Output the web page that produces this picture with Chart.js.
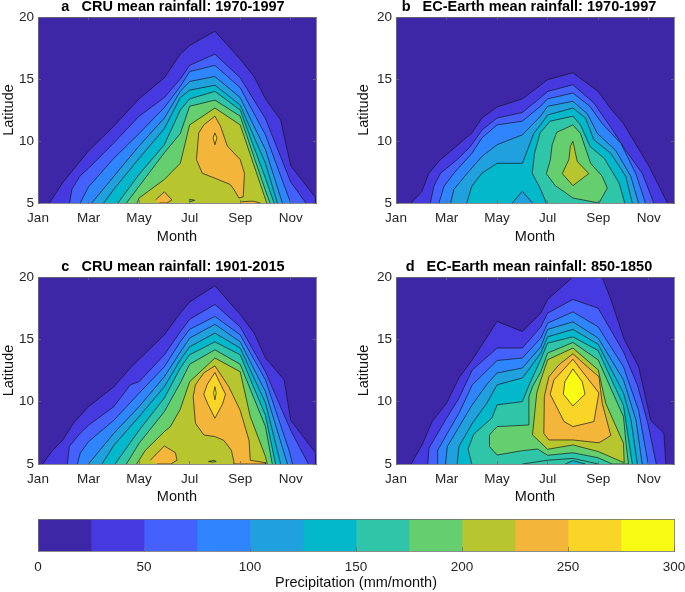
<!DOCTYPE html>
<html>
<head>
<meta charset="utf-8">
<script src="https://cdn.jsdelivr.net/npm/chart.js@4"></script>
<style>
  body { margin: 0; background: #fff; }
  canvas { position: absolute; }
</style>
</head>
<body>
<canvas id="panelA"></canvas>
<canvas id="panelB"></canvas>
<canvas id="panelC"></canvas>
<canvas id="panelD"></canvas>
<canvas id="colorBar"></canvas>
<script>
// Axis labels and colour classes
const monthNames = ['', 'Jan', 'Feb', 'Mar', 'Apr', 'May', 'Jun', 'Jul', 'Aug', 'Sep', 'Oct', 'Nov', 'Dec'];
const monthTicks = [1, 3, 5, 7, 9, 11];
const latitudeTicks = [5, 10, 15, 20];
const barTicks = [0, 50, 100, 150, 200, 250, 300];
const barSteps = [25, 25, 25, 25, 25, 25, 25, 25, 25, 25, 25, 25];
const bandColors = ['#3d27a6', '#4639df', '#4460fd', '#2e85fd', '#20a1de', '#04b8cc', '#2fc5a8', '#65cf70', '#b7c62f', '#f4b63a', '#f8d527', '#f9fb15'];
const wholeField = [[1, 5], [1, 20], [12, 20], [12, 5]];

// Contours, as [month, latitude]
// a: CRU 1970-1997
const a25 = [[1.45, 5], [2, 6.7], [3, 9.2], [4, 11.2], [5, 13.4], [6, 15.1], [6.63, 17], [7, 17.7], [8, 18.85], [9, 16.6], [9.55, 15.2], [10, 13.4], [10.6, 11.7], [11, 8], [12, 5.4], [12, 5]];
const a50 = [[2.25, 5], [2.34, 6.1], [2.67, 7.2], [3, 7.8], [4, 9.85], [5, 12], [6, 13.5], [6.63, 15], [7, 16.1], [8, 17], [9, 15.1], [10, 11.8], [11, 6.7], [11.6, 5]];
const a75 = [[2.67, 5], [3, 6.3], [4, 8.6], [5, 10.6], [6, 12.7], [6.63, 14.4], [7, 15.6], [8, 16.1], [9, 14.3], [10, 10.5], [11, 5]];
const a100 = [[3.13, 5], [4, 7.15], [5, 9.6], [6, 11.85], [6.63, 14], [7, 14.8], [8, 15.2], [9, 13.5], [10, 9.3], [10.67, 5]];
const a125 = [[3.6, 5], [4, 6.1], [5, 8.6], [6, 11], [6.63, 13.5], [7, 14.1], [8, 14.5], [9, 12.9], [10, 8.2], [10.47, 5]];
const a150 = [[4.16, 5], [5, 7.3], [6, 9.7], [6.63, 12.5], [7, 13.4], [8, 14], [9, 12.5], [10, 7], [10.34, 5]];
const a175 = [[4.5, 5], [5, 6.35], [6, 9.05], [6.63, 10.6], [7, 12.8], [8, 13.3], [9, 12], [10, 6], [10.18, 5]];
const a200 = [[4.92, 5], [5, 5.4], [6, 6.9], [6.63, 8.2], [7, 11.3], [8, 12.66], [9, 11.3], [10, 5.3], [10.05, 5]];
const a225 = [[8, 12], [8.22, 11.2], [8.49, 9.6], [9, 8.5], [9.17, 7.4], [9.12, 5.5], [8.95, 5.4], [8.75, 6.1], [8.6, 6.5], [8, 7], [7.5, 7.4], [7.27, 8.5], [7.36, 10.65], [7.56, 11.3]];
const a225Jun = [[5.65, 5.25], [6, 5.9], [6.3, 5.25], [6.1, 5], [5.8, 5]];
const a225Sep = [[9, 5], [9.05, 5.1], [9.5, 5.15], [9.8, 5]];
const a175Jul = [[7, 5.1], [7, 5.3], [7.2, 5.22]];
const a250 = [[8, 10.65], [8.08, 10.25], [8, 9.7], [7.93, 10.25]];

// b: EC-Earth 1970-1997
const b25 = [[1.6, 5], [2.03, 5.94], [2.3, 7.4], [2.76, 8.5], [3, 8.9], [4, 10.65], [4.4, 11.85], [5, 12.74], [6, 13.4], [6.72, 14.5], [7, 14.95], [8, 15.5], [9, 14], [9.5, 12.6], [10, 11.4], [11, 8], [11.74, 5]];
const b50 = [[2.36, 5], [2.5, 6.35], [2.76, 7.4], [3.42, 8.5], [3.95, 9.57], [4.41, 10.9], [5, 11.85], [6, 12.3], [6.72, 13.5], [7, 14], [8, 14.54], [8.83, 13.07], [9.5, 11.1], [10.09, 9.25], [10.75, 7.37], [11.2, 5]];
const b75 = [[2.7, 5], [2.9, 6.35], [3.29, 7.4], [4, 9], [4.4, 10.25], [5, 11.3], [6, 11.6], [6.72, 12.8], [7, 13.4], [8, 13.87], [8.67, 12.8], [9.16, 11.4], [9.9, 9.8], [10.49, 7.37], [10.87, 5]];
const b100 = [[3.16, 5], [3.29, 6.1], [3.82, 7.4], [4.4, 8.76], [5, 9.7], [6, 10.5], [6.72, 12], [7, 12.8], [8, 13.2], [8.57, 12.2], [8.97, 10.6], [9.69, 9.25], [10.29, 7.15], [10.6, 5]];
const b125 = [[3.8, 5], [4, 6.35], [4.4, 7.4], [5, 8.2], [6, 8.2], [6.2, 9.25], [6.45, 10.6], [6.72, 11.3], [7, 12.1], [8, 12.66], [8.5, 11.85], [8.83, 10.1], [9.5, 9], [10.09, 7.15], [10.35, 5]];
const b100May = [[5.6, 5], [6, 5.94], [6.4, 5]];
const b150 = [[6.95, 5], [6.7, 6.2], [6.39, 7.4], [6.48, 9], [6.7, 10.65], [7.1, 11.6], [8, 12], [8.3, 11.3], [8.68, 9.55], [9.24, 8.6], [9.83, 6.6], [10.05, 5]];
const b175 = [[8, 11.3], [7.36, 10.7], [7.18, 9.7], [7.11, 8.5], [6.95, 7.37], [7.3, 6.4], [7.66, 5.9], [8, 5.4], [9.03, 5], [9.36, 6.2], [9.16, 7.15], [8.7, 8.2], [8.3, 10.6]];
const b200 = [[8, 9.97], [8.17, 8.36], [8.63, 7.37], [8, 6.4], [7.58, 7.37], [7.84, 8.5], [7.9, 9.57]];

// c: CRU 1901-2015
const c25 = [[1.18, 5], [1.54, 5.99], [1.98, 6.93], [2.4, 8.27], [3, 9.6], [4, 11.2], [4.65, 12.7], [6, 15.37], [6.63, 17.1], [7, 18], [8, 19.3], [9, 17], [9.55, 15.5], [10, 13.5], [10.74, 11.75], [11, 8.5], [12, 5.85], [12, 5]];
const c50 = [[2.16, 5], [2.24, 6.4], [2.67, 7.46], [3, 8.1], [4, 9.6], [4.65, 11.35], [5, 11.6], [6, 13.76], [6.63, 15.6], [7, 16.6], [8, 17.8], [9, 16], [10, 12.4], [11, 7.7], [11.7, 5]];
const c75 = [[2.56, 5], [2.67, 5.86], [3, 6.8], [4, 8.5], [5, 10.68], [6, 12.8], [6.63, 14.8], [7, 15.8], [8, 16.84], [9, 15.36], [10, 11.75], [10.95, 6], [11.07, 5]];
const c100 = [[3, 5], [4, 7.46], [5, 9.6], [6, 12], [6.63, 13.97], [7, 15.1], [8, 16.2], [9, 14.8], [10, 10.8], [10.87, 5]];
const c125 = [[3.53, 5], [4, 6.5], [5, 8.8], [6, 11.2], [6.63, 13.36], [7, 14.4], [8, 15.5], [9, 14.3], [10, 9.9], [10.6, 5]];
const c150 = [[4.05, 5], [5, 7.7], [6, 10.3], [6.63, 12.7], [7, 13.76], [8, 14.8], [9, 13.76], [10, 8.9], [10.4, 5]];
const c175 = [[4.5, 5], [5, 6.66], [6, 9.2], [6.63, 11.5], [7, 13], [8, 14.16], [9, 13], [10, 8], [10.27, 5]];
const c200 = [[4.9, 5], [5.25, 6.1], [6, 7.6], [6.24, 8], [6.63, 9.4], [7, 11.6], [8, 13.5], [9, 12.4], [9.4, 8.8], [10, 5.6], [10.07, 5]];
const c225 = [[8, 12.87], [8.55, 11.2], [9, 9.3], [9.35, 6.9], [9.4, 5.3], [10, 5.1], [10, 5], [8.75, 5], [8.75, 5.2], [8.65, 6.1], [8.35, 6.9], [8, 7.2], [7.56, 7.33], [7.23, 8.27], [7.14, 10.4], [7.23, 11.35], [7.56, 12.3]];
const c225Jun = [[5.44, 5.3], [6, 6.45], [6.44, 5.9], [6.5, 5.3], [6.25, 5], [5.7, 5]];
const c175Aug = [[7.75, 5.2], [7.95, 5.3], [8.05, 5.2], [7.9, 5.15]];
const c250 = [[8, 12.34], [8.25, 11.3], [8.42, 10.6], [8.3, 9.8], [8, 8.67], [7.7, 9.9], [7.56, 10.6], [7.7, 11.4]];
const c275 = [[8, 11.2], [8.05, 10.7], [8, 10.15], [7.95, 10.7]];

// d: EC-Earth 850-1850
const d25 = [[1.6, 5], [2.03, 6.53], [2.43, 8.4], [3, 9.87], [3.49, 11.9], [4.02, 13.36], [5, 16.44], [6, 15.63], [6.73, 17.1], [7, 18.2], [8, 20], [9.16, 20], [9.5, 18.2], [10.03, 15], [10.6, 12.8], [11.08, 8.5], [11.6, 7.46], [11.68, 5]];
const d50 = [[2.26, 5], [2.3, 6.26], [3, 8.67], [3.49, 10.28], [4.02, 12.55], [5, 14.3], [6, 14.3], [6.73, 16], [7, 17.1], [8, 18.2], [9, 17.5], [10, 14], [10.55, 11.35], [10.95, 8.4], [11.3, 5]];
const d75 = [[2.63, 5], [2.65, 6.1], [3.03, 7.46], [3.49, 9.07], [4.02, 11.35], [5, 13.3], [6, 13.5], [6.73, 15.1], [7, 16.3], [8, 17.2], [9, 16], [10, 12.8], [10.6, 9.3], [10.98, 5]];
const d100 = [[2.96, 5], [3.03, 6.4], [3.5, 8], [4, 9.7], [4.6, 11.4], [5, 12.3], [6, 12.7], [6.73, 14.4], [7, 15.8], [8, 16.4], [9, 15.1], [10, 11.75], [10.5, 8.5], [10.74, 5]];
const d125 = [[3.42, 5], [3.49, 6.4], [4, 8.2], [4.6, 9.9], [5, 11.35], [6, 11.9], [6.3, 12.7], [6.73, 13.9], [7, 15.2], [8, 15.8], [9, 14.6], [10, 10.7], [10.3, 8.5], [10.55, 5]];
const d150 = [[4, 5], [3.85, 6.2], [4.08, 7.4], [4.8, 8.7], [5, 9.75], [6, 10], [6.26, 11.3], [6.73, 13.4], [7, 14.7], [8, 15.2], [9, 14.1], [10, 9.7], [10.35, 5]];
const d175 = [[4.7, 6.4], [4.7, 7.33], [5, 8], [6.26, 8.13], [6.26, 10.4], [6.4, 11.2], [6.73, 12.4], [7, 13.9], [8, 14.75], [9, 13.35], [10, 8.8], [10.1, 6.7], [10.2, 5], [9.55, 5], [9, 5.5], [8, 5.9], [7, 5.7], [6.6, 6.2], [6, 6.07], [5, 5.72]];
const d150Low = [[6, 5], [7, 5.3], [8, 5.45], [9, 5]];
const d125Low = [[7.7, 5], [8, 5.27], [8.5, 5]];
const d200 = [[6.4, 7.33], [6.57, 10.7], [6.73, 11.75], [7, 13.36], [8, 14.3], [9, 12.55], [9.3, 9.87], [10, 6.66], [10.03, 5.1], [9, 6], [8, 6.53], [7, 6.18]];
const d225 = [[8, 13.84], [8.57, 12.8], [9.03, 12], [9.16, 9.87], [9.5, 7.28], [9.03, 6.7], [8, 6.93], [7.05, 6.93], [6.85, 7.46], [6.87, 10.4], [7.05, 12], [7.45, 12.96]];
const d250 = [[8, 13.4], [8.57, 11.9], [9.03, 10.7], [8.83, 8.4], [8, 8], [7.65, 8.4], [7.1, 10.6], [7.25, 11.75]];
const d275 = [[8, 12.63], [8.37, 11.6], [8.48, 10.6], [8, 9.66], [7.62, 10.6], [7.68, 11.6]];

// Drawing order inside each panel: low classes first, holes afterwards
const panelA = [[25, a25], [50, a50], [75, a75], [100, a100], [125, a125], [150, a150], [175, a175], [200, a200], [225, a225], [225, a225Jun], [225, a225Sep], [175, a175Jul], [250, a250]];
const panelB = [[25, b25], [50, b50], [75, b75], [100, b100], [125, b125], [100, b100May], [150, b150], [175, b175], [200, b200]];
const panelC = [[25, c25], [50, c50], [75, c75], [100, c100], [125, c125], [150, c150], [175, c175], [200, c200], [225, c225], [225, c225Jun], [175, c175Aug], [250, c250], [275, c275]];
const panelD = [[25, d25], [50, d50], [75, d75], [100, d100], [125, d125], [150, d150], [175, d175], [150, d150Low], [125, d125Low], [200, d200], [225, d225], [250, d250], [275, d275]];

Chart.defaults.font.family = '"Liberation Sans", Arial, sans-serif';
Chart.defaults.animation = false;
Chart.defaults.responsive = false;

// Fills each contour as a closed shape from the points Chart.js has placed
const polygonFill = {
    id: 'polygonFill',
    beforeDatasetDraw(chart, args) {
        const dataset = chart.data.datasets[args.index];
        const area = chart.chartArea;
        const ctx = chart.ctx;
        ctx.save();
        ctx.beginPath();
        ctx.rect(area.left, area.top, area.right - area.left, area.bottom - area.top);
        ctx.clip();
        ctx.beginPath();
        args.meta.data.forEach((point, i) => {
            if (i === 0) ctx.moveTo(point.x, point.y);
            else ctx.lineTo(point.x, point.y);
        });
        ctx.closePath();
        ctx.fillStyle = dataset.polygonColor;
        ctx.fill();
        ctx.restore();
    }
};

function contourDataset(level, points, lineWidth) {
    // shapes that do not sit on the bottom axis need their outline closed
    const last = points[points.length - 1];
    const outline = last[1] === 5 ? points : points.concat([points[0]]);
    return {
        data: outline.map(p => ({ x: p[0], y: p[1] })),
        polygonColor: bandColors[level / 25],
        showLine: true,
        fill: false,
        pointRadius: 0,
        tension: 0,
        borderColor: 'rgba(20, 20, 25, 0.85)',
        borderWidth: lineWidth,
        order: 0
    };
}

const tickColor = '#262626';
const boxColor = '#6e6e6e';

// Pins an axis to a given thickness and stops tick labels from shrinking the plot
function fixedSize(side, value) {
    return scale => {
        scale[side] = value;
        scale.paddingLeft = scale.paddingRight = scale.paddingTop = scale.paddingBottom = 0;
    };
}

function setTicks(values) {
    return scale => { scale.ticks = values.map(v => ({ value: v })); };
}

function drawPanel(id, left, top, plotLeft, plotTop, plotRight, plotBottom, title, contours) {
    const width = 330, height = 246;
    const canvas = document.getElementById(id);
    canvas.width = width;
    canvas.height = height;
    canvas.style.left = left + 'px';
    canvas.style.top = top + 'px';

    const datasets = [contourDataset(0, wholeField, 0)]
        .concat(contours.map(c => contourDataset(c[0], c[1], 0.8)))
        .reverse();   // Chart.js paints the last dataset first

    const axisGrid = { drawOnChartArea: false, tickLength: -3, color: boxColor, lineWidth: 0.8, z: 1 };
    const axisBorder = { color: boxColor, width: 0.8, z: 1 };

    new Chart(canvas, {
        type: 'scatter',
        data: { datasets: datasets },
        options: {
            layout: { padding: 0 },
            plugins: { legend: { display: false }, tooltip: { enabled: false } },
            scales: {
                x: {
                    type: 'linear', position: 'bottom', min: 1, max: 12,
                    grid: axisGrid, border: axisBorder,
                    afterBuildTicks: setTicks(monthTicks),
                    ticks: {
                        autoSkip: false, maxRotation: 0,
                        color: tickColor, font: { size: 13.5 }, padding: 10,
                        callback: v => monthNames[v]
                    },
                    title: { display: true, text: 'Month', color: '#111', font: { size: 14.5 }, padding: { top: 0, bottom: 0 } },
                    afterFit: fixedSize('height', top + height - plotBottom)
                },
                y: {
                    type: 'linear', position: 'left', min: 5, max: 20,
                    grid: axisGrid, border: axisBorder,
                    afterBuildTicks: setTicks(latitudeTicks),
                    ticks: { color: tickColor, font: { size: 13.5 }, padding: 7 },
                    title: { display: true, text: 'Latitude', color: '#111', font: { size: 14.5 }, padding: { top: 0, bottom: 0 } },
                    afterFit: fixedSize('width', plotLeft - left)
                },
                xTop: {
                    type: 'linear', position: 'top', min: 1, max: 12,
                    grid: axisGrid, border: axisBorder,
                    afterBuildTicks: setTicks(monthTicks),
                    ticks: { display: false },
                    title: { display: true, text: title, color: '#000', font: { size: 14.5, weight: 'bold', lineHeight: 1 }, padding: { top: 0, bottom: 0 } },
                    afterFit: fixedSize('height', plotTop - top)
                },
                yRight: {
                    type: 'linear', position: 'right', min: 5, max: 20,
                    grid: axisGrid, border: axisBorder,
                    afterBuildTicks: setTicks(latitudeTicks),
                    ticks: { display: false },
                    afterFit: fixedSize('width', left + width - plotRight)
                }
            }
        },
        plugins: [polygonFill]
    });
}

// trailing no-break spaces move the titles a little left of the plot centre
drawPanel('panelA', 0, 0, 38, 17, 316, 203, 'a   CRU mean rainfall: 1970-1997\u00a0\u00a0', panelA);
drawPanel('panelB', 355, 0, 396, 17, 674, 203, 'b   EC-Earth mean rainfall: 1970-1997\u00a0\u00a0\u00a0', panelB);
drawPanel('panelC', 0, 260, 38, 277, 316, 464, 'c   CRU mean rainfall: 1901-2015\u00a0\u00a0', panelC);
drawPanel('panelD', 355, 260, 396, 277, 674, 464, 'd   EC-Earth mean rainfall: 850-1850\u00a0\u00a0\u00a0', panelD);

// Colour bar as one stacked horizontal bar
const barCanvas = document.getElementById('colorBar');
barCanvas.width = 685;
barCanvas.height = 82;
barCanvas.style.left = '0px';
barCanvas.style.top = '510px';

const barBorder = { color: boxColor, width: 0.8, z: 1 };

new Chart(barCanvas, {
    type: 'bar',
    data: {
        labels: [''],
        datasets: barSteps.map((step, i) => ({
            data: [step],
            backgroundColor: bandColors[i],
            barPercentage: 1,
            categoryPercentage: 1
        }))
    },
    options: {
        indexAxis: 'y',
        layout: { padding: { left: 38, right: 11, top: 9 } },
        plugins: { legend: { display: false }, tooltip: { enabled: false } },
        scales: {
            x: {
                stacked: true, min: 0, max: 300,
                afterBuildTicks: setTicks(barTicks),
                grid: { drawOnChartArea: false, tickLength: -4, color: boxColor, lineWidth: 0.8, z: 1 },
                border: barBorder,
                ticks: { color: tickColor, font: { size: 13.5 }, padding: 12, autoSkip: false, maxRotation: 0 },
                title: { display: true, text: 'Precipitation (mm/month)', color: '#111', font: { size: 14.5 }, padding: { top: 0, bottom: 0 } },
                afterFit: fixedSize('height', 41)
            },
            y: {
                stacked: true,
                grid: { display: false },
                border: barBorder,
                ticks: { display: false },
                afterFit: fixedSize('width', 0)
            },
            xTop: {
                type: 'linear', position: 'top', min: 0, max: 300,
                grid: { display: false },
                border: barBorder,
                ticks: { display: false },
                afterFit: fixedSize('height', 0)
            },
            yRight: {
                type: 'linear', position: 'right',
                grid: { display: false },
                border: barBorder,
                ticks: { display: false },
                afterFit: fixedSize('width', 0)
            }
        }
    }
});
</script>
</body>
</html>
